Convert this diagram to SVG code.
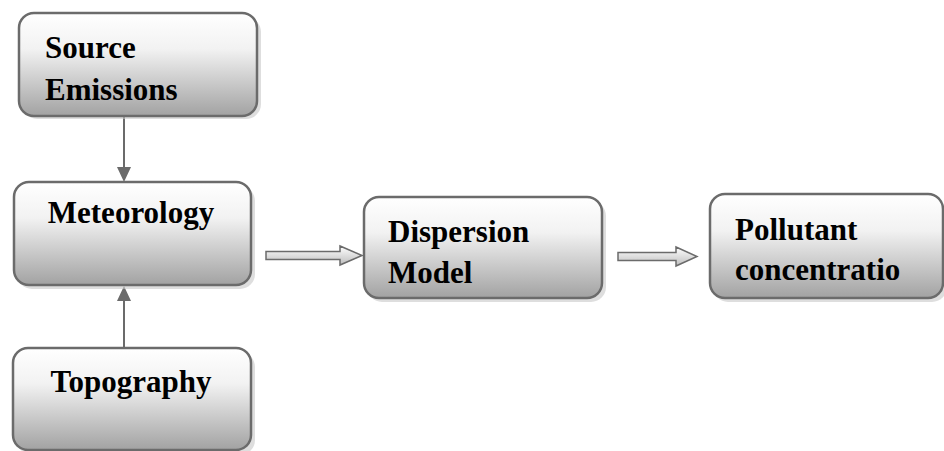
<svg xmlns="http://www.w3.org/2000/svg" width="944" height="451" viewBox="0 0 944 451">
<defs>
<linearGradient id="g" x1="0" y1="0" x2="0" y2="1">
<stop offset="0" stop-color="#ffffff"/>
<stop offset="0.35" stop-color="#f2f2f2"/>
<stop offset="1" stop-color="#a2a2a2"/>
</linearGradient>
<linearGradient id="ga" x1="0" y1="0" x2="0" y2="1">
<stop offset="0" stop-color="#ffffff"/>
<stop offset="1" stop-color="#bdbdbd"/>
</linearGradient>
</defs>
<style>
.box{fill:url(#g);stroke:#6b6b6b;stroke-width:2.5}
.sh{fill:#c8c8c8;opacity:0.6}
.ln{stroke:#6b6b6b;stroke-width:2;fill:none}
.hd{fill:#6b6b6b}
.blk{fill:url(#ga);stroke:#6b6b6b;stroke-width:1.5}
</style>
<rect width="944" height="451" fill="#fff"/>
<g id="connectors">
<line class="ln" x1="124" y1="116" x2="124" y2="168"/>
<path class="hd" d="M117,167 L131,167 L124,182 Z"/>
<line class="ln" x1="124" y1="348" x2="124" y2="300"/>
<path class="hd" d="M117,301 L131,301 L124,286 Z"/>
<path class="blk" d="M266,251.5 L340,251.5 L340,246 L362,255.5 L340,265 L340,259.5 L266,259.5 Z"/>
<path class="blk" d="M618,252.5 L676,252.5 L676,247 L697,256.5 L676,266 L676,260.5 L618,260.5 Z"/>
</g>
<g id="source">
<rect class="sh" x="22" y="17" width="239" height="102" rx="15"/>
<rect class="box" x="19" y="13" width="238" height="103" rx="15"/>
<text x="45" y="58" font-family="Liberation Serif" font-weight="bold" font-size="31">Source</text>
<text x="45" y="100" font-family="Liberation Serif" font-weight="bold" font-size="31">Emissions</text>
</g>
<g id="meteorology">
<rect class="sh" x="17" y="186" width="238" height="103" rx="15"/>
<rect class="box" x="14" y="182" width="237" height="103" rx="15"/>
<text x="131" y="223" text-anchor="middle" font-family="Liberation Serif" font-weight="bold" font-size="31">Meteorology</text>
</g>
<g id="topography">
<rect class="sh" x="17" y="352" width="238" height="103" rx="15"/>
<rect class="box" x="13" y="348" width="238" height="102" rx="15"/>
<text x="131" y="392" text-anchor="middle" font-family="Liberation Serif" font-weight="bold" font-size="31">Topography</text>
</g>
<g id="dispersion">
<rect class="sh" x="367" y="201" width="239" height="101" rx="15"/>
<rect class="box" x="364" y="197" width="238" height="101" rx="15"/>
<text x="388" y="242" font-family="Liberation Serif" font-weight="bold" font-size="31">Dispersion</text>
<text x="388" y="283" font-family="Liberation Serif" font-weight="bold" font-size="31">Model</text>
</g>
<g id="pollutant">
<rect class="sh" x="713" y="198" width="234" height="104" rx="15"/>
<rect class="box" x="710" y="194" width="233" height="104" rx="15"/>
<text x="735" y="240" font-family="Liberation Serif" font-weight="bold" font-size="31">Pollutant</text>
<text x="735" y="280" font-family="Liberation Serif" font-weight="bold" font-size="31">concentratio</text>
</g>
</svg>
